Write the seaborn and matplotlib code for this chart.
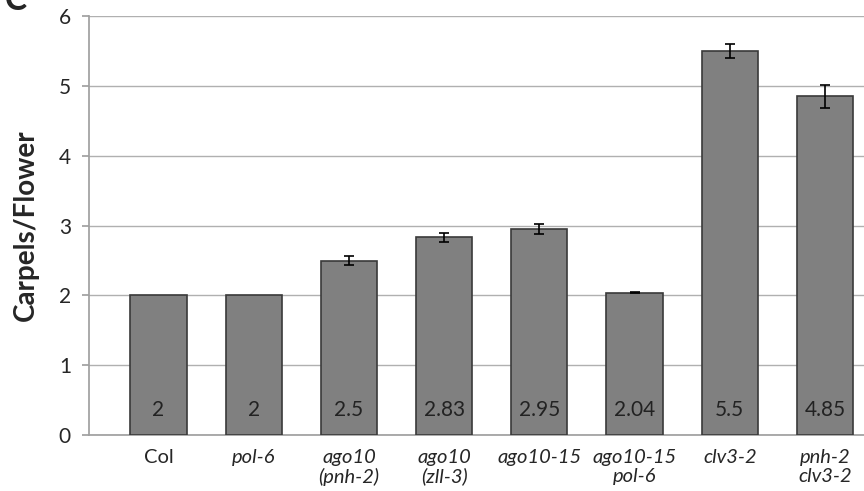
import pandas as pd
import seaborn as sns
import matplotlib.pyplot as plt
import numpy as np

genotypes = ['Col', 'pol-6', 'ago10\n(pnh-2)', 'ago10\n(zll-3)', 'ago10-15',
             'ago10-15\npol-6', 'clv3-2', 'pnh-2\nclv3-2']
carpels = [2.0, 2.0, 2.5, 2.83, 2.95, 2.04, 5.5, 4.85]
err = [0.0, 0.0, 0.06, 0.07, 0.07, 0.01, 0.1, 0.16]
value_labels = ['2', '2', '2.5', '2.83', '2.95', '2.04', '5.5', '4.85']

sns.set_theme(style="white")
plt.rcParams['font.family'] = ['Lato', 'DejaVu Sans']

df = pd.DataFrame({'genotype': genotypes, 'carpels': carpels, 'err': err})

fig = plt.figure(figsize=(8.64, 4.91), dpi=100)
ax = fig.add_axes([0.103, 0.114, 0.897, 0.853])

sns.barplot(data=df, x='genotype', y='carpels', color='#808080', saturation=1,
            width=0.59, edgecolor='#3a3a3a', linewidth=1.2, ax=ax, zorder=3)

# error bars only where there is a spread
pos = np.arange(len(carpels))
has_err = df['err'] > 0
ax.errorbar(pos[has_err], df['carpels'][has_err], yerr=df['err'][has_err], fmt='none',
            ecolor='black', elinewidth=1.2, capsize=3.5, capthick=1.2, zorder=4)

for i, lab in enumerate(value_labels):
    ax.text(i, 0.36, lab, ha='center', va='center', fontsize=15, color='#222222', zorder=5)

ax.set_ylim(0, 6)
ax.set_xlim(-0.73, 7.41)
ax.set_yticks(range(0, 7))
ax.yaxis.grid(True, color='#b0b0b0', linewidth=1)
ax.set_axisbelow(True)
for s in ['top', 'right']:
    ax.spines[s].set_visible(False)
ax.spines['left'].set_color('#a0a0a0')
ax.spines['bottom'].set_color('#a0a0a0')
ax.tick_params(axis='y', left=True, length=5, color='#a0a0a0', labelsize=15, pad=8)
ax.tick_params(axis='x', bottom=False, labelsize=14.5, pad=4)

ax.set_xticks(range(len(genotypes)))
ax.set_xticklabels(genotypes, linespacing=1.12)
for t in ax.get_xticklabels():
    if t.get_text() != 'Col':
        t.set_style('italic')
ax.set_xlabel('')
ax.set_ylabel('Carpels/Flower', fontsize=20, fontweight='bold', labelpad=14)

fig.text(0.005, 1.0, 'C', fontsize=24, fontweight='bold', va='center', ha='left')

fig.savefig('out.png', dpi=100)
